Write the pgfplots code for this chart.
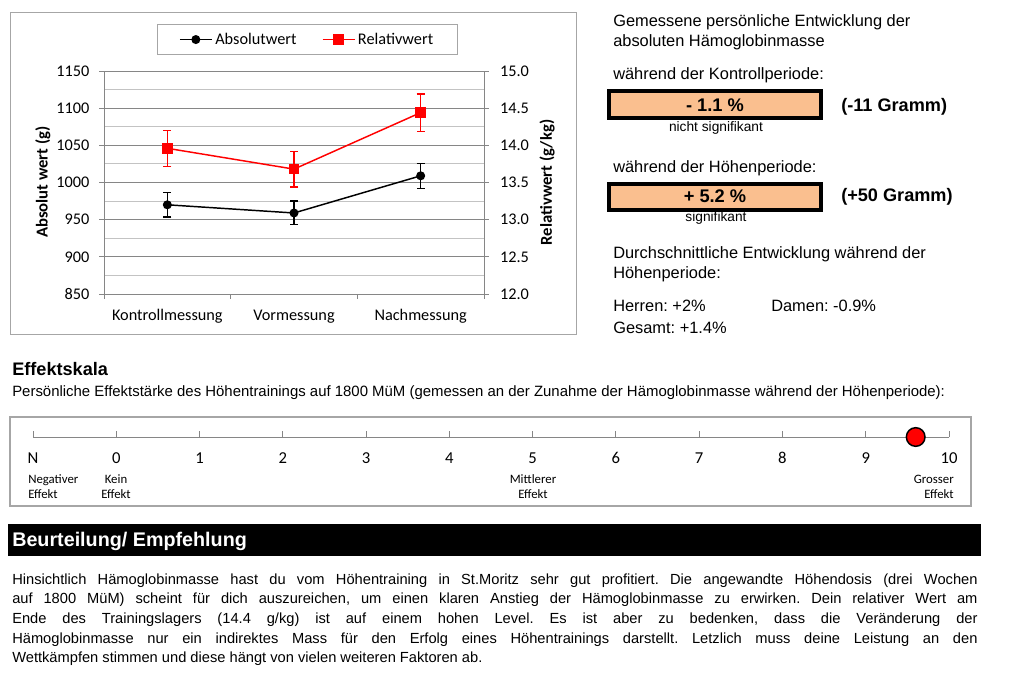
\documentclass[border=0pt]{standalone}
\usepackage{pgfplots}
\pgfplotsset{compat=1.18}
\usepackage{pgfplotstable}
\usepackage{fontspec}
\setmainfont{Liberation Sans}
\newfontfamily\calibri{Carlito}
\definecolor{peach}{RGB}{250,191,143}
\definecolor{gridmaj}{RGB}{134,134,134}
\definecolor{gridmin}{RGB}{195,195,195}
\definecolor{framegray}{RGB}{166,166,166}
\pgfplotstableread{
x  a     aerr  r      rerr
1  970   16.5  13.96  0.24
2  959   16    13.68  0.24
3  1009  17    14.44  0.25
}\hbdata
\pgfplotstableread{
x    y
9.6  0
}\effekt
\begin{document}
\frenchspacing
\begin{tikzpicture}[x=0.75pt,y=0.75pt]
\path[use as bounding box] (0,0) rectangle (1024,683);
% ---------------- chart frame
\draw[framegray, line width=0.75pt] (10,670) rectangle (576,349);
\begin{axis}[
  at={(78pt,291.75pt)}, anchor=south west,
  scale only axis, width=285pt, height=167.25pt,
  xmin=0.5, xmax=3.5, ymin=850, ymax=1150,
  axis x line*=bottom, axis y line*=left,
  axis line style={gridmaj, line width=0.75pt, -},
  xtick={0.5,1.5,2.5,3.5}, xticklabels={,,,},
  extra x ticks={1,2,3},
  extra x tick labels={Kontrollmessung,Vormessung,Nachmessung},
  extra x tick style={major tick length=0pt},
  xticklabel style={anchor=base, yshift=-20pt},
  yticklabel style={xshift=-4pt},
  ytick={850,900,950,1000,1050,1100,1150},
  minor ytick={875,925,975,1025,1075,1125},
  ymajorgrids, yminorgrids,
  major grid style={gridmaj, line width=0.75pt},
  minor grid style={gridmin, line width=0.75pt},
  tick style={gridmaj, line width=0.75pt},
  tick align=outside, major tick length=3.5pt, minor tick length=0pt,
  tick label style={font=\calibri\fontsize{12.2}{14}\selectfont, black},
  /pgf/number format/assume math mode=true,
  /pgf/number format/1000 sep={},
  ylabel={Absolut wert (g)},
  ylabel style={font=\calibri\bfseries\fontsize{12.5}{14}\selectfont, at={(axis description cs:-0.161,0.502)}, anchor=center},
  legend columns=2,
  legend style={at={(axis description cs:0.5355,1.141)}, anchor=center, draw=framegray, line width=0.75pt,
    font=\calibri\fontsize{12.2}{14}\selectfont, inner xsep=16pt, inner ysep=4.5pt,
    /tikz/every even column/.append style={column sep=17pt}},
  legend image code/.code={\draw[mark repeat=2,mark phase=2] plot coordinates {(0pt,0pt) (12pt,0pt) (24pt,0pt)};},
  clip=false,
]
\addplot[black, line width=1.1pt, mark=*, mark size=2.8pt, mark options={fill=black, solid},
  error bars/.cd, y dir=both, y explicit,
  error bar style={line width=0.9pt, black},
  error mark options={rotate=90, mark size=3pt, line width=0.9pt, black}]
  table[x=x, y=a, y error=aerr] {\hbdata};
\addlegendentry{Absolutwert}
\addlegendimage{red, line width=1.1pt, mark=square*, mark size=3.4pt, mark options={fill=red, solid}}
\addlegendentry{Relativwert}
\end{axis}
\begin{axis}[
  at={(78pt,291.75pt)}, anchor=south west,
  scale only axis, width=285pt, height=167.25pt,
  xmin=0.5, xmax=3.5, ymin=12, ymax=15,
  axis x line=none, axis y line*=right,
  axis line style={gridmaj, line width=0.75pt, -},
  ytick={12,12.5,13,13.5,14,14.5,15},
  yticklabel style={xshift=5pt, /pgf/number format/.cd, fixed, fixed zerofill, precision=1},
  tick style={gridmaj, line width=0.75pt},
  tick align=outside, major tick length=3.5pt,
  tick label style={font=\calibri\fontsize{12.2}{14}\selectfont, black},
  /pgf/number format/assume math mode=true,
  ylabel={Relativwert (g/kg)},
  ylabel style={font=\calibri\bfseries\fontsize{12.5}{14}\selectfont, at={(axis description cs:1.166,0.5)}, anchor=center},
  clip=false,
]
\addplot[red, line width=1.1pt, mark=square*, mark size=3.4pt, mark options={fill=red, solid},
  error bars/.cd, y dir=both, y explicit,
  error bar style={line width=0.9pt, red},
  error mark options={rotate=90, mark size=3pt, line width=0.9pt, red}]
  table[x=x, y=r, y error=rerr] {\hbdata};
\end{axis}
% ---------------- right column
\begin{scope}[every node/.style={inner sep=0pt}]
\node[anchor=base west, font=\fontsize{12.3}{14}\selectfont] at (613,656) {Gemessene persönliche Entwicklung der};
\node[anchor=base west, font=\fontsize{12.3}{14}\selectfont] at (613,636) {absoluten Hämoglobinmasse};
\node[anchor=base west, font=\fontsize{12.3}{14}\selectfont] at (613,603) {während der Kontrollperiode:};
\draw[line width=3pt, fill=peach] (609,592) rectangle (821,565);
\node[anchor=base, font=\bfseries\fontsize{13.7}{15}\selectfont] at (715,571) {- 1.1 \%};
\node[anchor=base, font=\fontsize{10.3}{12}\selectfont] at (716,551) {nicht signifikant};
\node[anchor=base west, font=\bfseries\fontsize{13.6}{15}\selectfont] at (841,571) {(-11 Gramm)};
\node[anchor=base west, font=\fontsize{12.3}{14}\selectfont] at (613,510) {während der Höhenperiode:};
\draw[line width=3pt, fill=peach] (609,499) rectangle (821,473);
\node[anchor=base, font=\bfseries\fontsize{13.7}{15}\selectfont] at (715,480) {+ 5.2 \%};
\node[anchor=base, font=\fontsize{10.3}{12}\selectfont] at (716,461) {signifikant};
\node[anchor=base west, font=\bfseries\fontsize{13.6}{15}\selectfont] at (841,481) {(+50 Gramm)};
\node[anchor=base west, font=\fontsize{12.3}{14}\selectfont] at (613,425) {Durchschnittliche Entwicklung während der};
\node[anchor=base west, font=\fontsize{12.3}{14}\selectfont] at (613,405) {Höhenperiode:};
\node[anchor=base west, font=\fontsize{12.3}{14}\selectfont] at (613,372) {Herren: +2\%};
\node[anchor=base west, font=\fontsize{12.3}{14}\selectfont] at (771,372) {Damen: -0.9\%};
\node[anchor=base west, font=\fontsize{12.3}{14}\selectfont] at (613,350) {Gesamt: +1.4\%};
% ---------------- effect scale
\node[anchor=base west, font=\bfseries\fontsize{13.6}{15}\selectfont] at (12,308) {Effektskala};
\node[anchor=base west, font=\fontsize{11.2}{13}\selectfont] at (12,287) {Persönliche Effektstärke des Höhentrainings auf 1800 MüM (gemessen an der Zunahme der Hämoglobinmasse während der Höhenperiode):};
\draw[framegray, line width=1.5pt] (10,266) rectangle (971,177);
\end{scope}
\begin{axis}[
  at={(24.75pt,184.5pt)}, anchor=south west,
  scale only axis, width=687pt, height=12pt,
  xmin=-1, xmax=10, ymin=0, ymax=1, clip=false,
  axis x line*=bottom, axis y line=none,
  axis line style={gridmaj, line width=0.75pt, -},
  xtick={-1,0,1,2,3,4,5,6,7,8,9,10},
  xticklabels={N,0,1,2,3,4,5,6,7,8,9,10},
  tick align=inside, major tick length=4.5pt,
  x tick style={gridmaj, line width=0.75pt},
  xticklabel style={font=\calibri\fontsize{12.5}{14}\selectfont, anchor=base, yshift=-19.5pt},
]
\addplot[only marks, mark=*, mark size=7pt, mark options={fill=red, draw=black, line width=1.1pt}]
  table[x=x, y=y] {\effekt};
\end{axis}
\begin{scope}[every node/.style={inner sep=0pt, font=\calibri\fontsize{9.6}{11}\selectfont}]
\node[anchor=base west] at (28,200) {Negativer};
\node[anchor=base west] at (28,185) {Effekt};
\node[anchor=base] at (116,200) {Kein};
\node[anchor=base] at (116,185) {Effekt};
\node[anchor=base] at (533,200) {Mittlerer};
\node[anchor=base] at (533,185) {Effekt};
\node[anchor=base east] at (954,200) {Grosser};
\node[anchor=base east] at (954,185) {Effekt};
\end{scope}
% ---------------- assessment
\fill[black] (8,159) rectangle (981,127);
\begin{scope}[every node/.style={inner sep=0pt}]
\node[anchor=base west, text=white, font=\bfseries\fontsize{14.8}{16}\selectfont] at (12,137) {Beurteilung/ Empfehlung};
\node[anchor=base west, font=\fontsize{11}{13}\selectfont] at (12,99) {\makebox[724pt][s]{Hinsichtlich Hämoglobinmasse hast du vom Höhentraining in St.Moritz sehr gut profitiert. Die angewandte Höhendosis (drei Wochen}};
\node[anchor=base west, font=\fontsize{11}{13}\selectfont] at (12,79.5) {\makebox[724pt][s]{auf 1800 MüM) scheint für dich auszureichen, um einen klaren Anstieg der Hämoglobinmasse zu erwirken. Dein relativer Wert am}};
\node[anchor=base west, font=\fontsize{11}{13}\selectfont] at (12,60) {\makebox[724pt][s]{Ende des Trainingslagers (14.4 g/kg) ist auf einem hohen Level. Es ist aber zu bedenken, dass die Veränderung der}};
\node[anchor=base west, font=\fontsize{11}{13}\selectfont] at (12,40) {\makebox[724pt][s]{Hämoglobinmasse nur ein indirektes Mass für den Erfolg eines Höhentrainings darstellt. Letzlich muss deine Leistung an den}};
\node[anchor=base west, font=\fontsize{11}{13}\selectfont] at (12,21) {Wettkämpfen stimmen und diese hängt von vielen weiteren Faktoren ab.};
\end{scope}
\end{tikzpicture}
\end{document}
